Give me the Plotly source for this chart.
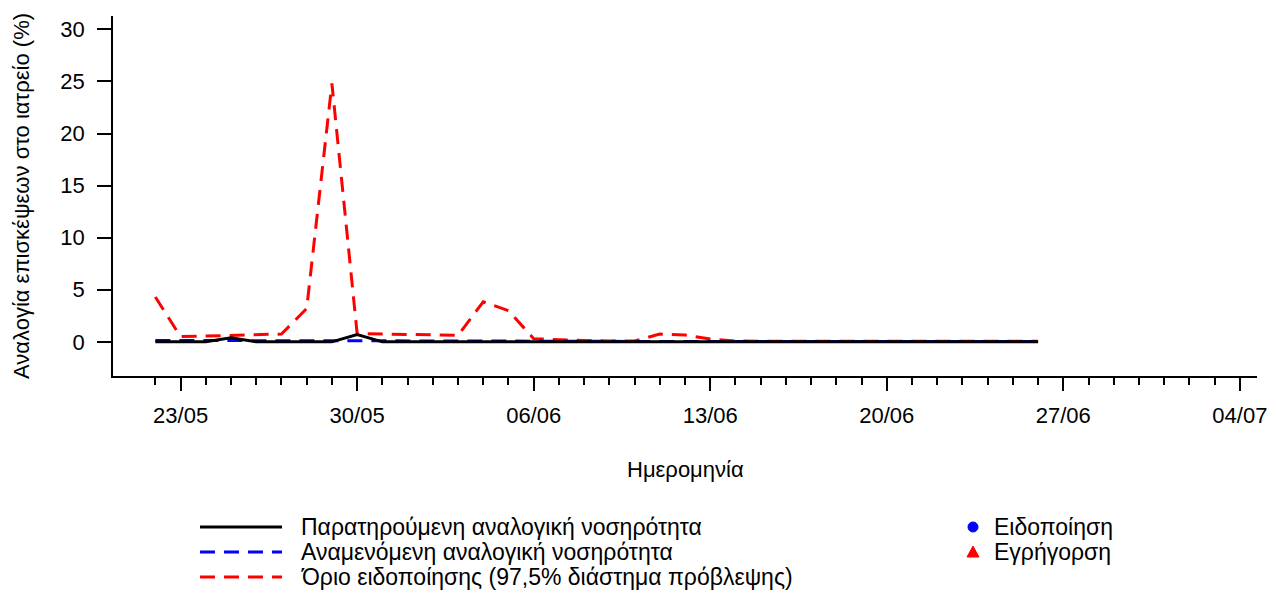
import pandas as pd
import plotly.graph_objects as go

# ---------------- data ----------------
dates = [
    "2023-05-22", "2023-05-23", "2023-05-24", "2023-05-25", "2023-05-26", "2023-05-27",
    "2023-05-28", "2023-05-29", "2023-05-30", "2023-05-31", "2023-06-01", "2023-06-02",
    "2023-06-03", "2023-06-04", "2023-06-05", "2023-06-06", "2023-06-07", "2023-06-08",
    "2023-06-09", "2023-06-10", "2023-06-11", "2023-06-12", "2023-06-13", "2023-06-14",
    "2023-06-15", "2023-06-16", "2023-06-17", "2023-06-18", "2023-06-19", "2023-06-20",
    "2023-06-21", "2023-06-22", "2023-06-23", "2023-06-24", "2023-06-25", "2023-06-26",
]
observed = [
    0.0, 0.0, 0.0, 0.38, 0.0, 0.0, 0.0, 0.0, 0.7, 0.0, 0.0, 0.0,
    0.0, 0.0, 0.0, 0.0, 0.0, 0.0, 0.0, 0.0, 0.0, 0.0, 0.0, 0.0,
    0.0, 0.0, 0.0, 0.0, 0.0, 0.0, 0.0, 0.0, 0.0, 0.0, 0.0, 0.0,
]
expected = [
    0.13, 0.13, 0.13, 0.15, 0.13, 0.12, 0.12, 0.12, 0.14, 0.12, 0.11, 0.1,
    0.1, 0.08, 0.07, 0.05, 0.05, 0.04, 0.04, 0.04, 0.04, 0.04, 0.04, 0.04,
    0.04, 0.04, 0.04, 0.04, 0.04, 0.04, 0.04, 0.04, 0.04, 0.04, 0.04, 0.04,
]
threshold = [
    4.3, 0.5, 0.55, 0.6, 0.65, 0.75, 3.2, 24.8, 0.8, 0.75, 0.7, 0.68,
    0.62, 3.85, 3.0, 0.3, 0.2, 0.12, 0.08, 0.08, 0.75, 0.65, 0.28, 0.08,
    0.06, 0.06, 0.06, 0.06, 0.06, 0.06, 0.06, 0.06, 0.06, 0.06, 0.06, 0.06,
]
# no signals in this period
notification_dates, notification_values = [], []
alert_dates, alert_values = [], []

x_tickvals = ["2023-05-23", "2023-05-30", "2023-06-06", "2023-06-13",
              "2023-06-20", "2023-06-27", "2023-07-04"]
x_ticktext = ["23/05", "30/05", "06/06", "13/06", "20/06", "27/06", "04/07"]
x_minor = [d.strftime("%Y-%m-%d") for d in pd.date_range("2023-05-22", "2023-07-04", freq="D")]
y_tickvals = [0, 5, 10, 15, 20, 25, 30]

names = [
    "Παρατηρούμενη αναλογική νοσηρότητα",
    "Αναμενόμενη αναλογική νοσηρότητα",
    "Όριο ειδοποίησης (97,5% διάστημα πρόβλεψης)",
]
signal_names = ["Ειδοποίηση", "Εγρήγορση"]
y_title = "Αναλογία επισκέψεων στο ιατρείο (%)"
x_title = "Ημερομηνία"

FONT = "Liberation Sans, Arial, sans-serif"
FS = 22
LFS = 23
DASH = "15px,9px"

OFF = 8  # page body margin
W, H = 1277 - OFF, 593 - OFF
ML, MT = 113 - OFF, 16 - OFF
MR = W - (1257 - OFF)
MB = H - (376 - OFF)
PW, PH = W - ML - MR, H - MT - MB


def px(x):  # screen pixel -> paper
    return (x - 113) / PW


def py(y):
    return (376 - y) / PH


fig = go.Figure()
fig.add_trace(go.Scatter(x=dates, y=threshold, mode="lines", name=names[2],
                         line=dict(color="#ff0000", width=3, dash=DASH), showlegend=False))
fig.add_trace(go.Scatter(x=dates, y=expected, mode="lines", name=names[1],
                         line=dict(color="#0000ff", width=3, dash=DASH), showlegend=False))
fig.add_trace(go.Scatter(x=dates, y=observed, mode="lines", name=names[0],
                         line=dict(color="black", width=3), showlegend=False))
fig.add_trace(go.Scatter(x=notification_dates, y=notification_values, mode="markers",
                         name=signal_names[0], marker=dict(color="#0000ff", symbol="circle", size=11),
                         showlegend=False))
fig.add_trace(go.Scatter(x=alert_dates, y=alert_values, mode="markers",
                         name=signal_names[1], marker=dict(color="#ff0000", symbol="triangle-up", size=11),
                         showlegend=False))

fig.update_layout(
    width=W, height=H, autosize=False,
    margin=dict(l=ML, r=MR, t=MT, b=MB, pad=0),
    paper_bgcolor="white", plot_bgcolor="white",
    font=dict(family=FONT, size=FS, color="black"),
    xaxis=dict(
        type="date",
        range=["2023-05-20 07:40:48", "2023-07-04 16:19:12"],
        tickmode="array", tickvals=x_tickvals, ticktext=x_ticktext,
        ticks="outside", ticklen=13, tickwidth=1.5, tickcolor="black",
        showline=True, linecolor="black", linewidth=1.5,
        showgrid=False, zeroline=False,
        tickfont=dict(family=FONT, size=FS, color="black"),
        ticklabelstandoff=6,
        minor=dict(tickmode="array", tickvals=x_minor, ticks="outside", ticklen=7,
                   tickwidth=1.5, tickcolor="black", showgrid=False),
    ),
    yaxis=dict(
        range=[-3.28, 31.28],
        tickmode="array", tickvals=y_tickvals,
        ticks="outside", ticklen=14, tickwidth=1.5, tickcolor="black",
        showline=True, linecolor="black", linewidth=1.5,
        showgrid=False, zeroline=False,
        tickfont=dict(family=FONT, size=FS, color="black"),
        ticklabelstandoff=8,
    ),
)

annotations = [
    dict(text=x_title, x=0.5, y=py(469), xref="paper", yref="paper",
         xanchor="center", yanchor="middle", showarrow=False,
         font=dict(family=FONT, size=FS, color="black")),
    dict(text=y_title, x=px(21), y=py(196), xref="paper", yref="paper",
         xanchor="center", yanchor="middle", textangle=-90, showarrow=False,
         font=dict(family=FONT, size=FS, color="black")),
]
shapes = []
legend_rows = [527, 552, 577]
legend_styles = [("black", "solid"), ("#0000ff", DASH), ("#ff0000", DASH)]
for row_y, name, (col, dash) in zip(legend_rows, names, legend_styles):
    shapes.append(dict(type="line", xref="paper", yref="paper",
                       x0=px(200), x1=px(282), y0=py(row_y), y1=py(row_y),
                       line=dict(color=col, width=3, dash=dash)))
    annotations.append(dict(text=name, x=px(299), y=py(row_y), xref="paper", yref="paper",
                            xanchor="left", yanchor="middle", showarrow=False,
                            font=dict(family=FONT, size=LFS, color="black")))
# signal legend
shapes.append(dict(type="circle", xref="paper", yref="paper",
                   xsizemode="pixel", ysizemode="pixel",
                   xanchor=px(973), yanchor=py(527), x0=-5, x1=5, y0=-5, y1=5,
                   fillcolor="#0000ff", line=dict(color="#0000ff", width=1)))
shapes.append(dict(type="path", xref="paper", yref="paper",
                   xsizemode="pixel", ysizemode="pixel",
                   xanchor=px(973), yanchor=py(552),
                   path="M -6 -5 L 6 -5 L 0 6 Z",
                   fillcolor="#ff0000", line=dict(color="#ff0000", width=1)))
for row_y, name in zip(legend_rows[:2], signal_names):
    annotations.append(dict(text=name, x=px(992), y=py(row_y), xref="paper", yref="paper",
                            xanchor="left", yanchor="middle", showarrow=False,
                            font=dict(family=FONT, size=LFS, color="black")))

fig.update_layout(annotations=annotations, shapes=shapes)
fig.write_html("out.html")
